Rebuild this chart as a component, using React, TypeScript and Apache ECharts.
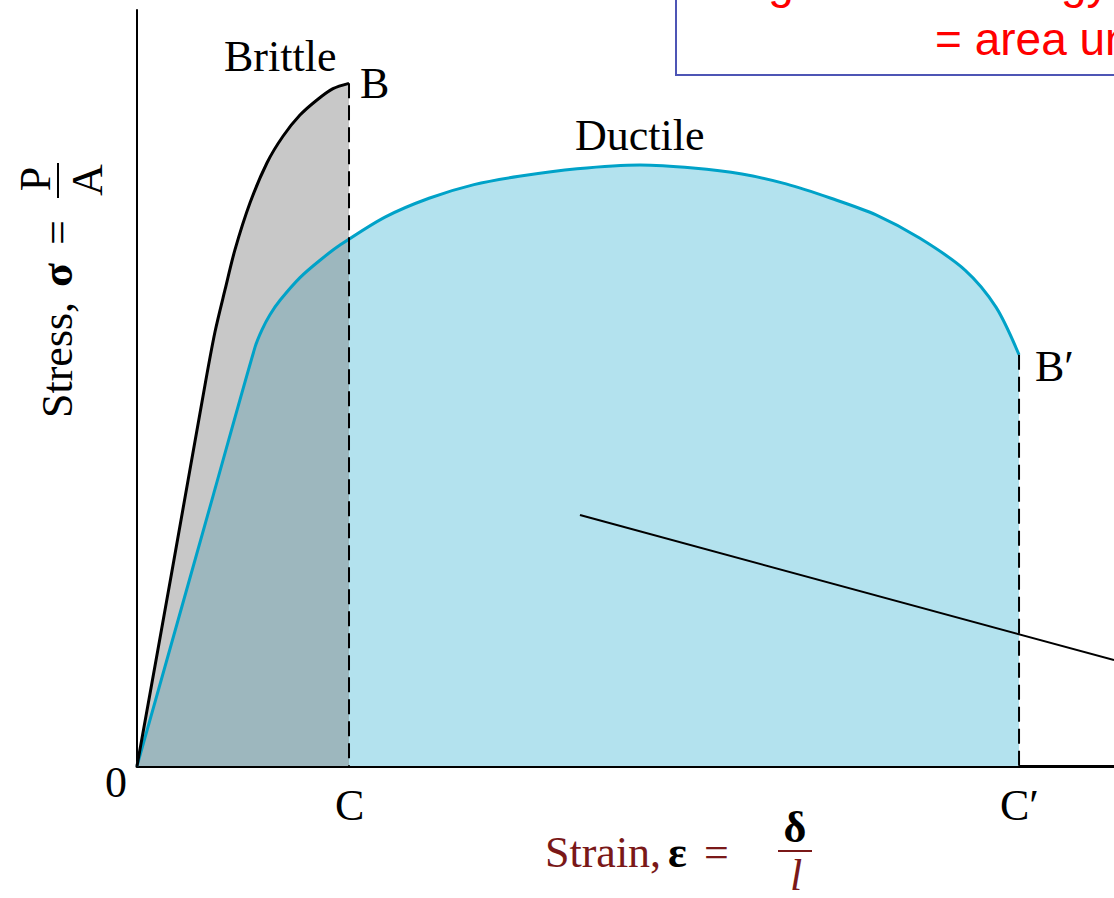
import React, { useEffect, useRef } from "react";
import * as echarts from "echarts";

// Brittle material: strain / stress (arbitrary units, 0-100 scale)
const brittleStrain = [0, 3.5, 6.96, 7.98, 9.01, 10.03, 11.57, 13.31, 14.94, 16.68, 18.42, 20.06, 21.7];
const brittleStress = [0, 25.2, 50.4, 57.4, 63.0, 68.3, 74.5, 79.8, 83.3, 86.1, 88.1, 89.6, 90.3];

// Ductile material
const ductileStrain = [0, 7.78, 12.08, 12.79, 13.61, 14.64, 16.68, 18.73, 20.78, 25.38, 29.89, 34.49, 39.1, 45.04, 51.48, 56.91, 61.92, 66.43, 71.03, 75.64, 80.14, 84.75, 87.92, 90.28];
const ductileStress = [0, 35.7, 55.4, 57.7, 59.7, 61.6, 64.6, 66.9, 68.9, 72.6, 75.1, 76.9, 78.0, 79.0, 79.5, 79.1, 78.3, 77.0, 75.1, 72.9, 69.8, 65.6, 60.7, 54.4];

// Pointer line from the ductile area toward the note
const pointerStrain = [45.34, 100];
const pointerStress = [33.2, 14.0];

const noteLines = ["Toughness = energy to fracture", "= area under curve"];

const serif = '"Liberation Serif", "DejaVu Serif", serif';
const sans = '"Liberation Sans", Arial, sans-serif';

const zip = (xs: number[], ys: number[]) => xs.map((x, i) => [x, ys[i]]);

export default function App() {
  const ref = useRef<HTMLDivElement>(null);
  useEffect(() => {
    if (!ref.current) return;
    const chart = echarts.init(ref.current, null, { renderer: "svg" });
    const brittle = zip(brittleStrain, brittleStress);
    const ductile = zip(ductileStrain, ductileStress);
    const bLast = brittle[brittle.length - 1];
    const dLast = ductile[ductile.length - 1];
    const fs = 44;
    const txt = (x: number, y: number, text: string, extra: any = {}) => ({
      type: "text",
      x,
      y,
      z: 100,
      style: {
        text,
        fill: "#000",
        fontSize: fs,
        fontFamily: serif,
        align: "left",
        verticalAlign: "middle",
        ...extra,
      },
    });
    const maroon = "#7a1818";
    chart.setOption({
      animation: false,
      backgroundColor: "#ffffff",
      grid: { left: 137, right: 0, top: 10, bottom: 132 },
      xAxis: {
        type: "value",
        min: 0,
        max: 100,
        axisLine: { show: true, lineStyle: { color: "#000", width: 3 } },
        axisTick: { show: false },
        axisLabel: { show: false },
        splitLine: { show: false },
      },
      yAxis: {
        type: "value",
        min: 0,
        max: 100,
        axisLine: { show: true, lineStyle: { color: "#000", width: 2 } },
        axisTick: { show: false },
        axisLabel: { show: false },
        splitLine: { show: false },
      },
      series: [
        {
          name: "Ductile area",
          type: "line",
          data: ductile,
          smooth: 0.3,
          showSymbol: false,
          lineStyle: { width: 0, opacity: 0 },
          areaStyle: { color: "#b3e2ee", opacity: 1 },
        },
        {
          name: "Brittle area",
          type: "line",
          data: brittle,
          smooth: 0.3,
          showSymbol: false,
          lineStyle: { width: 0, opacity: 0 },
          areaStyle: { color: "rgba(128,128,128,0.43)", opacity: 1 },
        },
        {
          name: "Ductile",
          type: "line",
          data: ductile,
          smooth: 0.3,
          showSymbol: false,
          lineStyle: { color: "#00a2c8", width: 3 },
        },
        {
          name: "Brittle",
          type: "line",
          data: brittle,
          smooth: 0.3,
          showSymbol: false,
          lineStyle: { color: "#000", width: 3 },
        },
        {
          name: "B-C",
          type: "line",
          data: [bLast, [bLast[0], 0]],
          showSymbol: false,
          lineStyle: { color: "#000", width: 2, type: [15, 7] },
        },
        {
          name: "B'-C'",
          type: "line",
          data: [dLast, [dLast[0], 0]],
          showSymbol: false,
          lineStyle: { color: "#000", width: 2, type: [15, 7] },
        },
        {
          name: "pointer",
          type: "line",
          data: zip(pointerStrain, pointerStress),
          showSymbol: false,
          lineStyle: { color: "#000", width: 2 },
        },
      ],
      graphic: [
        {
          type: "rect",
          z: 90,
          shape: { x: 676, y: -10, width: 500, height: 85 },
          style: { fill: "#fff", stroke: "#4d55b5", lineWidth: 2 },
        },
        txt(694, -18, noteLines[0], { fill: "#ff0000", fontFamily: sans, fontSize: 46 }),
        txt(935, 39, noteLines[1], { fill: "#ff0000", fontFamily: sans, fontSize: 46 }),
        txt(224, 56, "Brittle"),
        txt(360, 83, "B"),
        txt(575, 135, "Ductile"),
        txt(1035, 366, "B\u2032"),
        txt(105, 782, "0"),
        txt(335, 805, "C"),
        txt(1000, 805, "C\u2032"),
        txt(545, 852, "Strain,", { fill: maroon }),
        txt(668, 852, "\u03b5", { fontWeight: "bold" }),
        txt(704, 852, "=", { fill: maroon }),
        txt(795, 827, "\u03b4", { fontWeight: "bold", align: "center" }),
        {
          type: "line",
          z: 100,
          shape: { x1: 778, y1: 851, x2: 812, y2: 851 },
          style: { stroke: maroon, lineWidth: 2 },
        },
        txt(796, 875, "l", { fill: maroon, fontStyle: "italic", align: "center" }),
        {
          type: "group",
          x: 72,
          y: 420,
          rotation: Math.PI / 2,
          z: 100,
          children: [
            txt(2, -15, "Stress,"),
            txt(133, -15, "\u03c3", { fontWeight: "bold" }),
            txt(175, -15, "="),
            {
              type: "line",
              shape: { x1: 222, y1: -14, x2: 257, y2: -14 },
              style: { stroke: "#000", lineWidth: 2 },
            },
            txt(241, -37, "P", { align: "center" }),
            txt(240, 15, "A", { align: "center" }),
          ],
        },
      ],
    });
    return () => chart.dispose();
  }, []);
  return (
    <div
      ref={ref}
      style={{ position: "fixed", left: 0, top: 0, width: 1114, height: 898, background: "#fff" }}
    />
  );
}
